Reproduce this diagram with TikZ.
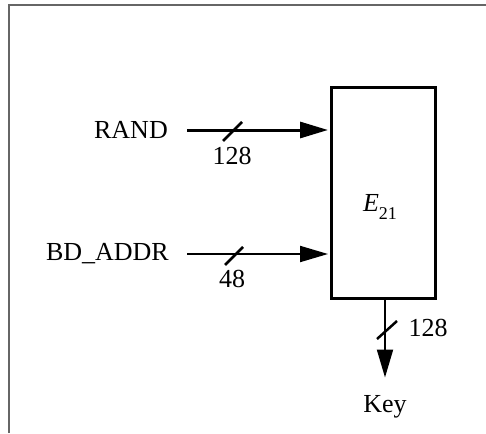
\documentclass[tikz,border=0pt]{standalone}
\usepackage{fontspec}
\setmainfont{Liberation Serif}
\usetikzlibrary{arrows.meta}
\begin{document}
\begin{tikzpicture}[x=1pt,y=-1pt,
  lbl/.style={inner sep=0pt,font=\fontsize{26}{30}\selectfont},
  sig/.style={-{Triangle[length=28pt,width=16pt]},shorten >=1.5pt},
  slash/.style={line width=2.5pt},
  blk/.style={draw,line width=3pt,minimum width=104pt,minimum height=210pt,inner sep=0pt}]
\useasboundingbox (0,0) rectangle (486,433);
\draw[line width=2pt,color=black!60] (9,433) -- (9,5) -- (486,5);
\node[blk] (E) at (383,193) {};
\node[lbl] (elbl) at (380,207) {\textit{E}\raisebox{-0.3em}{\fontsize{18}{20}\selectfont 21}};
\node[lbl,anchor=east] (rand) at (168,130) {RAND};
\node[lbl,anchor=east] (bd) at (169,254) {BD\_ADDR};
\coordinate (rs) at (187,130);
\coordinate (bs) at (187,254);
\coordinate (ks) at (385,300);
\coordinate (ke) at (385,379);
\draw[sig,line width=3pt] (rs) -- (rs -| E.west);
\draw[sig,line width=2pt] (bs) -- (bs -| E.west);
\draw[sig,line width=2pt] (E.south -| ks) -- (ke);
\draw[slash] (223,141) -- (242,122);
\draw[slash] (225,265) -- (243,247);
\draw[slash] (377,339) -- (397,321);
\node[lbl] (n128a) at (232,156) {128};
\node[lbl] (n48) at (232,279) {48};
\node[lbl] (n128b) at (428,328) {128};
\node[lbl] (key) at (385,407) {Key};
\end{tikzpicture}
\end{document}
